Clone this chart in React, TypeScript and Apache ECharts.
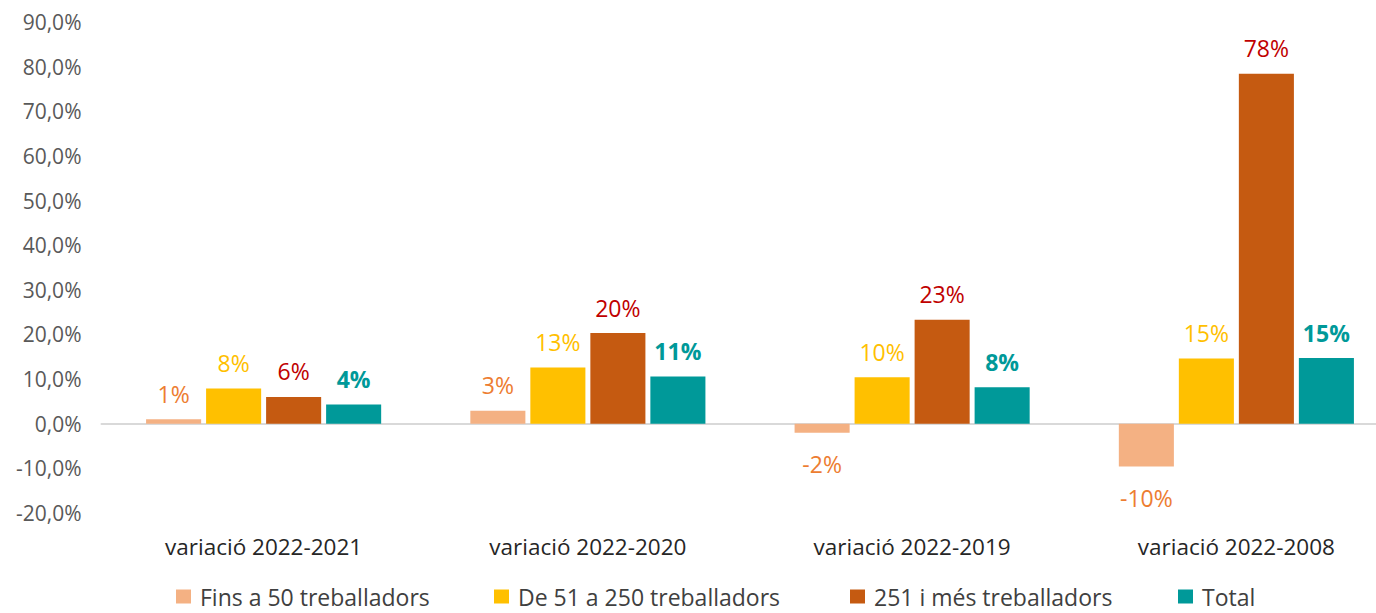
import React, { useEffect, useRef } from "react";
import * as echarts from "echarts";

const categories = ["variació 2022-2021", "variació 2022-2020", "variació 2022-2019", "variació 2022-2008"];
const seriesNames = ["Fins a 50 treballadors", "De 51 a 250 treballadors", "251 i més treballadors", "Total"];
const fins50 = [1.0, 2.9, -2.0, -9.6];
const de51a250 = [7.9, 12.6, 10.4, 14.6];
const mes251 = [6.0, 20.3, 23.3, 78.4];
const total = [4.3, 10.6, 8.2, 14.7];
const barColors = ["#F4B183", "#FFC000", "#C55A11", "#009999"];
const labelColors = ["#ED7D31", "#FFC000", "#C00000", "#009999"];
const labelWeights = ["normal", "normal", "normal", "bold"];
const legendLefts = [176, 494, 850, 1178];

export default function App() {
  const ref = useRef<HTMLDivElement>(null);
  useEffect(() => {
    const chart = echarts.init(ref.current!, null, { renderer: "svg" });
    const data = [fins50, de51a250, mes251, total];
    chart.setOption({
      animation: false,
      textStyle: { fontFamily: "Open Sans" },
      grid: { left: 101.5, right: 2.5, top: 22, height: 491, containLabel: false },
      legend: seriesNames.map((n, i) => ({
        top: 585,
        left: legendLefts[i],
        itemWidth: 15,
        itemHeight: 14,
        icon: "rect",
        padding: 0,
        textStyle: { fontSize: 23, lineHeight: 23, color: "#404040", fontFamily: "Open Sans", padding: [0, 0, 0, 4] },
        data: [n],
      })),
      xAxis: {
        type: "category",
        data: categories,
        axisLine: { lineStyle: { color: "#D9D9D9", width: 2 } },
        axisTick: { show: false },
        axisLabel: { fontSize: 22.5, color: "#262626", margin: 22 },
      },
      yAxis: {
        type: "value",
        min: -20,
        max: 90,
        interval: 10,
        splitLine: { show: false },
        axisLine: { show: false },
        axisTick: { show: false },
        axisLabel: {
          fontSize: 21,
          color: "#595959",
          margin: 20,
          formatter: (v: number) => v.toFixed(1).replace(".", ",") + "%",
        },
      },
      series: data.map((d, i) => ({
        type: "bar",
        name: seriesNames[i],
        barGap: "9%",
        barCategoryGap: "27.5%",
        itemStyle: { color: barColors[i] },
        data: d.map((v) => ({
          value: v,
          label: { position: v < 0 ? "bottom" : "top", distance: v < 0 ? 20 : 14 },
        })),
        label: {
          show: true,
          fontSize: 23,
          color: labelColors[i],
          fontWeight: labelWeights[i],
          formatter: (p: any) => Math.round(p.value) + "%",
        },
      })),
    });
    return () => chart.dispose();
  }, []);
  return (
    <div style={{ width: 1376, height: 613, position: "absolute", left: 0, top: 0, overflow: "hidden" }}>
      <div ref={ref} style={{ width: 1401, height: 613 }} />
    </div>
  );
}
